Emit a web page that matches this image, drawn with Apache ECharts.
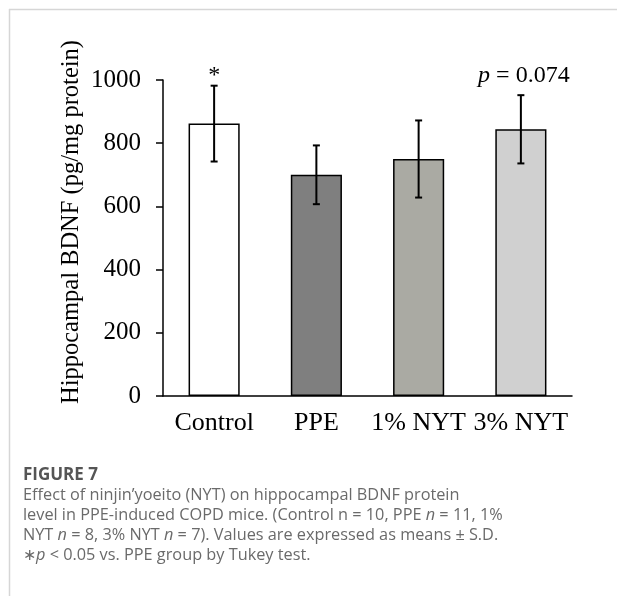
<!DOCTYPE html>
<html>
<head>
<meta charset="utf-8">
<script src="https://cdn.jsdelivr.net/npm/echarts@6/dist/echarts.min.js"></script>
<style>
html,body{margin:0;padding:0;background:#fff;}
#chart{width:617px;height:596px;}
</style>
</head>
<body>
<div id="chart"></div>
<script>
const categories = ['Control', 'PPE', '1% NYT', '3% NYT'];
const means = [862, 700, 750, 844];
const errors = [120, 93, 122, 108];
const annotations = ['*', '', '', '{i|p} = 0.074'];
const yTicks = [0, 200, 400, 600, 800, 1000];
const yLabel = 'Hippocampal BDNF (pg/mg protein)';

const barColors = ['#ffffff', '#7f7f7f', '#aaaaa3', '#d0d0d0'];
const serif = '"Liberation Serif", "Times New Roman", serif';
const sans = '"Open Sans", "Noto Sans", sans-serif';
const capColor = '#6a6a6a';
const capSize = 16.3;

const chart = echarts.init(document.getElementById('chart'), null, {renderer: 'canvas'});

const errData = categories.map((c, i) => [i, means[i], errors[i]]);
const annData = categories.map((c, i) => [i, yTicks[yTicks.length - 1], annotations[i]]);

const option = {
  backgroundColor: '#ffffff',
  animation: false,
  grid: {left: 163, right: 45, top: 80, bottom: 200, containLabel: false},
  xAxis: {
    type: 'category',
    data: categories,
    axisLine: {show: true, lineStyle: {color: '#000', width: 1.5}},
    axisTick: {show: false},
    axisLabel: {color: '#000', fontFamily: serif, fontSize: 26, margin: 14, interval: 0}
  },
  yAxis: {
    type: 'value',
    min: yTicks[0],
    max: yTicks[yTicks.length - 1],
    interval: 200,
    axisLine: {show: true, lineStyle: {color: '#000', width: 1.5}},
    axisTick: {show: true, inside: false, length: 7, lineStyle: {color: '#000', width: 1.5}},
    splitLine: {show: false},
    axisLabel: {color: '#000', fontFamily: serif, fontSize: 25, margin: 22, formatter: v => String(v)}
  },
  series: [
    {
      type: 'bar',
      barWidth: '50%',
      data: means.map((v, i) => ({value: v, itemStyle: {color: barColors[i], borderColor: '#000', borderWidth: 1.5}})),
      z: 2
    },
    {
      type: 'custom',
      data: errData,
      z: 3,
      renderItem: function (params, api) {
        const x = api.value(0), m = api.value(1), e = api.value(2);
        const top = api.coord([x, m + e]);
        const bot = api.coord([x, m - e]);
        const cw = 3.5;
        const st = {stroke: '#000', lineWidth: 2};
        return {
          type: 'group',
          children: [
            {type: 'line', shape: {x1: top[0], y1: top[1], x2: bot[0], y2: bot[1]}, style: st},
            {type: 'line', shape: {x1: top[0] - cw, y1: top[1], x2: top[0] + cw, y2: top[1]}, style: st},
            {type: 'line', shape: {x1: bot[0] - cw, y1: bot[1], x2: bot[0] + cw, y2: bot[1]}, style: st}
          ]
        };
      }
    },
    {
      type: 'custom',
      data: annData,
      z: 4,
      renderItem: function (params, api) {
        const i = api.value(0);
        const p = api.coord([i, api.value(1)]);
        const txt = annotations[i];
        return {
          type: 'text',
          x: p[0] + (i === 3 ? 3 : 0),
          y: p[1] - 4,
          style: {
            text: txt,
            fill: '#000',
            align: 'center',
            verticalAlign: 'middle',
            font: '24px ' + serif,
            rich: {i: {fontStyle: 'italic', fontFamily: serif, fontSize: 24, fill: '#000'}}
          }
        };
      }
    }
  ],
  graphic: [
    {type: 'line', shape: {x1: 9, y1: 9.5, x2: 617, y2: 9.5}, style: {stroke: '#d6d6d6', lineWidth: 1.5}},
    {type: 'line', shape: {x1: 9.5, y1: 9, x2: 9.5, y2: 596}, style: {stroke: '#d6d6d6', lineWidth: 1.5}},
    {
      type: 'text', x: 72, y: 222, rotation: Math.PI / 2,
      style: {text: yLabel, fill: '#000', font: '24.5px ' + serif, align: 'center', verticalAlign: 'middle'}
    },
    {
      type: 'text', x: 23, y: 475,
      style: {text: 'FIGURE 7', fill: '#555555', font: 'bold 17px ' + sans, verticalAlign: 'middle'}
    },
    {
      type: 'text', x: 23, y: 495,
      style: {text: 'Effect of ninjin\u2019yoeito (NYT) on hippocampal BDNF protein', fill: capColor, font: capSize + 'px ' + sans, verticalAlign: 'middle'}
    },
    {
      type: 'text', x: 23, y: 515,
      style: {
        text: 'level in PPE-induced COPD mice. (Control n = 10, PPE {i|n} = 11, 1%',
        fill: capColor, font: capSize + 'px ' + sans, verticalAlign: 'middle',
        rich: {i: {fontStyle: 'italic', fontFamily: sans, fontSize: capSize, fill: capColor}}
      }
    },
    {
      type: 'text', x: 23, y: 535,
      style: {
        text: 'NYT {i|n} = 8, 3% NYT {i|n} = 7). Values are expressed as means \u00b1 S.D.',
        fill: capColor, font: capSize + 'px ' + sans, verticalAlign: 'middle',
        rich: {i: {fontStyle: 'italic', fontFamily: sans, fontSize: capSize, fill: capColor}}
      }
    },
    {
      type: 'text', x: 23, y: 555,
      style: {
        text: '\u2217{i|p} < 0.05 vs. PPE group by Tukey test.',
        fill: capColor, font: capSize + 'px ' + sans, verticalAlign: 'middle',
        rich: {i: {fontStyle: 'italic', fontFamily: sans, fontSize: capSize, fill: capColor}}
      }
    }
  ]
};
chart.setOption(option);
</script>
</body>
</html>
